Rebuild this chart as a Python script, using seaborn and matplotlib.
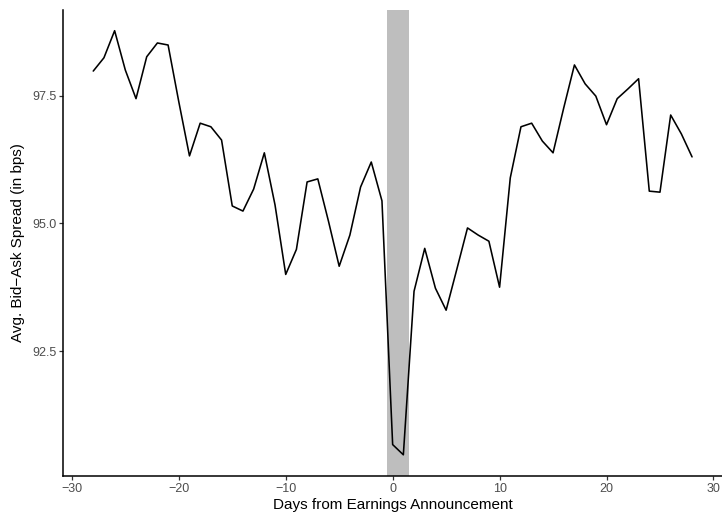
import matplotlib
matplotlib.use("Agg")
import matplotlib.pyplot as plt
import seaborn as sns
import pandas as pd

days = list(range(-28, 29))
spread = [97.98, 98.24, 98.77, 98.00, 97.44, 98.26, 98.53, 98.49, 97.38, 96.32,
          96.96, 96.89, 96.63, 95.34, 95.24, 95.67, 96.38, 95.36, 94.00, 94.49,
          95.81, 95.87, 95.04, 94.16, 94.77, 95.71, 96.20, 95.44, 90.67, 90.47,
          93.67, 94.51, 93.73, 93.30, 94.10, 94.91, 94.77, 94.65, 93.75, 95.89,
          96.89, 96.96, 96.61, 96.38, 97.26, 98.10, 97.73, 97.49, 96.93, 97.44,
          97.63, 97.83, 95.63, 95.61, 97.12, 96.75, 96.30]
event_window = [-0.5, 1.5]
x_ticks = [-30, -20, -10, 0, 10, 20, 30]
x_tick_labels = ["\u221230", "\u221220", "\u221210", "0", "10", "20", "30"]
y_ticks = [92.5, 95.0, 97.5]
y_tick_labels = ["92.5", "95.0", "97.5"]

df = pd.DataFrame({"day": days, "spread": spread})

sns.set_theme(style="ticks")
plt.rcParams["font.family"] = ["Liberation Sans", "DejaVu Sans"]

fig = plt.figure(figsize=(7.22, 5.18), dpi=100)
ax = fig.add_axes([63.3 / 722, 1 - 476 / 518, (722 - 63.3) / 722, (476 - 9.5) / 518])

ax.axvspan(event_window[0], event_window[1], color="#BEBEBE", lw=0, zorder=1)
sns.lineplot(data=df, x="day", y="spread", color="black", linewidth=1.15, ax=ax, zorder=2)
ax.margins(x=0.05, y=0.05)

ax.set_xticks(x_ticks)
ax.set_xticklabels(x_tick_labels)
ax.set_yticks(y_ticks)
ax.set_yticklabels(y_tick_labels)

for s in ["top", "right"]:
    ax.spines[s].set_visible(False)
for s in ["left", "bottom"]:
    ax.spines[s].set_linewidth(1.1)
    ax.spines[s].set_color("black")

ax.tick_params(axis="both", length=3, width=0.9, color="#333333",
               labelcolor="#4D4D4D", labelsize=9, pad=2)
ax.set_xlabel("Days from Earnings Announcement", fontsize=11, color="black", labelpad=2)
ax.set_ylabel("Avg. Bid\u2212Ask Spread (in bps)", fontsize=11, color="black", labelpad=5)
ax.set_facecolor("white")

fig.savefig("out.png", dpi=100, facecolor="white")
